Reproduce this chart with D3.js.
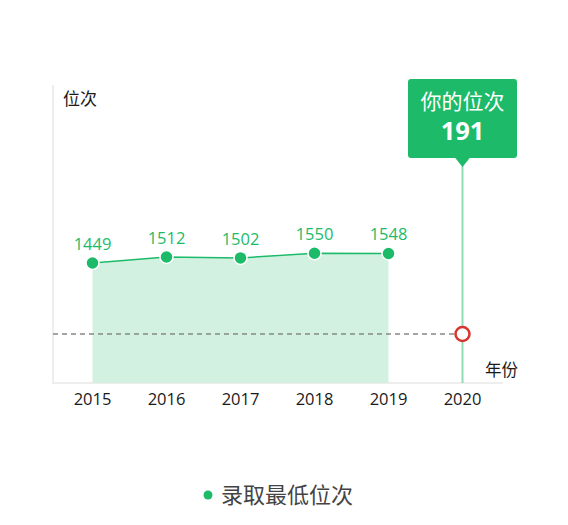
<!DOCTYPE html>
<html><head><meta charset="utf-8">
<script src="https://cdn.jsdelivr.net/npm/d3@7/dist/d3.min.js"></script>
<style>
html,body{margin:0;padding:0;background:#fff;}
svg{display:block;font-family:"Noto Sans","Noto Sans CJK SC",sans-serif;}
</style></head>
<body>
<svg id="c" width="568" height="525"></svg>
<script>
const years = ["2015","2016","2017","2018","2019","2020"];
const histYears = ["2015","2016","2017","2018","2019"];
const minRanks = [1449, 1512, 1502, 1550, 1548];
const myYear = "2020";
const myRank = 191;
const seriesName = "录取最低位次";
const tipTitle = "你的位次";
const yAxisName = "位次";
const xAxisName = "年份";

const svg = d3.select("#c");
const green = "#1dbb69";
const cjk = '"Noto Sans CJK SC","Noto Sans",sans-serif';
const latin = '"Open Sans","Noto Sans",sans-serif';

const x = d3.scaleBand().domain(years).range([55.5, 499.5]);
const cx = d => x(d) + x.bandwidth() / 2;
const plotTop = 85, plotBottom = 383;
const y = d3.scaleLinear().domain([myRank, 1449, 1550]).range([334, 263, 253.3]);

// axes lines
svg.append("line").attr("x1", 53).attr("x2", 53).attr("y1", plotTop).attr("y2", plotBottom)
  .attr("stroke", "#eeeeee").attr("stroke-width", 2);
const xAxis = svg.append("g").attr("transform", `translate(0,${plotBottom})`)
  .call(d3.axisBottom(x).tickSize(0).tickPadding(10));
xAxis.select(".domain").remove();
xAxis.attr("font-size", null).attr("font-family", null);
svg.append("line").attr("x1", 52).attr("x2", 503).attr("y1", plotBottom).attr("y2", plotBottom)
  .attr("stroke", "#eeeeee").attr("stroke-width", 2);
xAxis.selectAll("text").attr("font-size", 16.5).attr("fill", "#1a1a1a")
  .attr("font-family", latin);

svg.append("text").attr("x", 63).attr("y", 105).text(yAxisName)
  .attr("font-size", 17).attr("fill", "#1a1a1a").attr("font-family", cjk);
svg.append("text").attr("x", 485).attr("y", 376).text(xAxisName)
  .attr("font-size", 16.5).attr("fill", "#1a1a1a").attr("font-family", cjk);

const pts = histYears.map((yr, i) => ({yr, v: minRanks[i]}));

// area
svg.append("path").datum(pts)
  .attr("d", d3.area().x(d => cx(d.yr)).y0(plotBottom).y1(d => y(d.v)))
  .attr("fill", "#d2f1e0");
// line
svg.append("path").datum(pts)
  .attr("d", d3.line().x(d => cx(d.yr)).y(d => y(d.v)))
  .attr("fill", "none").attr("stroke", green).attr("stroke-width", 1.5);

// dashed line to my rank
svg.append("line").attr("x1", 53).attr("x2", cx(myYear) - 7).attr("y1", y(myRank)).attr("y2", y(myRank))
  .attr("stroke", "#888").attr("stroke-width", 1.5).attr("stroke-dasharray", "5,4");

// vertical line
svg.append("line").attr("x1", cx(myYear)).attr("x2", cx(myYear)).attr("y1", 166).attr("y2", plotBottom)
  .attr("stroke", "#8fdcb3").attr("stroke-width", 2);

// points
svg.selectAll("circle.pt").data(pts).join("circle").attr("class", "pt")
  .attr("cx", d => cx(d.yr)).attr("cy", d => y(d.v)).attr("r", 6.5)
  .attr("fill", green).attr("stroke", "#fff").attr("stroke-width", 1.5);
svg.selectAll("text.lbl").data(pts).join("text").attr("class", "lbl")
  .attr("x", d => cx(d.yr)).attr("y", d => y(d.v) - 13).attr("text-anchor", "middle")
  .attr("font-size", 16.5).attr("fill", green).attr("font-family", latin)
  .text(d => d.v);

// my rank marker
svg.append("circle").attr("cx", cx(myYear)).attr("cy", y(myRank)).attr("r", 7)
  .attr("fill", "#fff").attr("stroke", "#d8352c").attr("stroke-width", 2.5);

// tooltip
const tx = cx(myYear);
svg.append("rect").attr("x", tx - 54.5).attr("y", 79).attr("width", 109).attr("height", 79)
  .attr("rx", 3).attr("fill", green);
svg.append("path").attr("d", `M${tx-8},157 L${tx+8},157 L${tx},167 Z`).attr("fill", green);
svg.append("text").attr("x", tx).attr("y", 109).attr("text-anchor", "middle")
  .attr("font-size", 21).attr("fill", "#fff").attr("font-family", cjk).text(tipTitle);
svg.append("text").attr("x", tx).attr("y", 140).attr("text-anchor", "middle")
  .attr("font-size", 25.5).attr("font-weight", "bold").attr("fill", "#fff")
  .attr("font-family", latin).text(myRank);

// legend
svg.append("circle").attr("cx", 208).attr("cy", 495).attr("r", 4.5).attr("fill", green);
svg.append("text").attr("x", 221).attr("y", 503).attr("font-size", 22).attr("fill", "#444")
  .attr("font-family", cjk).text(seriesName);
</script>
</body></html>
